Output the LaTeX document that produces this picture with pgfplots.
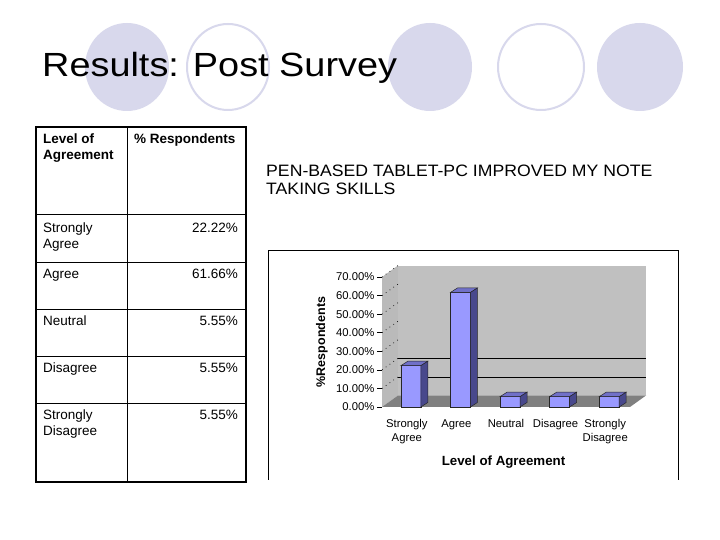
\documentclass[border=0pt]{standalone}
\usepackage{fontspec}
\setmainfont{Liberation Sans}
\usepackage{pgfplots}
\usepackage{pgfplotstable}
\pgfplotsset{compat=1.18}

\definecolor{lav}{RGB}{216,216,236}
\definecolor{barfront}{RGB}{153,153,255}
\definecolor{bartop}{RGB}{112,112,200}
\definecolor{barside}{RGB}{72,72,140}
\definecolor{wall}{RGB}{192,192,192}
\definecolor{sidewall}{RGB}{186,186,186}
\definecolor{floorgray}{RGB}{128,128,128}

\pgfplotstableread{
idx value
0 22.22
1 61.66
2 5.55
3 5.55
4 5.55
}\agreement

% top and side face of a bar, drawn at the top centre of the front face
\pgfdeclareplotmark{bar3d}{%
  \pgfmathsetlengthmacro\barh{\barval*1.857pt}%
  \filldraw[fill=bartop, draw=black!85, line width=0.5pt] (-6pt,0pt) -- (14pt,0pt) -- (21pt,4.5pt) -- (1pt,4.5pt) -- cycle;
  \filldraw[fill=barside, draw=black!85, line width=0.5pt] (14pt,0pt) -- (21pt,4.5pt) -- (21pt,{4.5pt-\barh}) -- (14pt,-\barh) -- cycle;
}

\newcommand\tabfont{\fontsize{13.5}{16}\selectfont}

\begin{document}
\begin{tikzpicture}
\path[fill=white, use as bounding box] (0pt,0pt) rectangle (720pt,540pt);

% decoration circles
\fill[lav] (127pt,473pt) ellipse [x radius=42pt, y radius=44pt];
\draw[lav, line width=2pt] (228pt,473pt) ellipse [x radius=41pt, y radius=43pt];
\fill[lav] (430pt,473pt) ellipse [x radius=42pt, y radius=44pt];
\draw[lav, line width=2pt] (541pt,473pt) ellipse [x radius=43pt, y radius=43pt];
\fill[lav] (640pt,473pt) ellipse [x radius=43pt, y radius=44pt];

\node[anchor=base west, inner sep=0pt, xscale=1.13, font=\fontsize{33.5}{40}\selectfont] at (42pt,463pt) {Results: Post Survey};

% table
\draw[line width=0.8pt] (127pt,413pt) -- (127pt,58pt);
\foreach \yy in {326,278,231,184,137} \draw[line width=0.8pt] (36pt,\yy pt) -- (246pt,\yy pt);
\draw[line width=1.2pt] (36pt,58pt) rectangle (246pt,413pt);
\begin{scope}[every node/.style={inner sep=0pt, font=\tabfont}]
\node[anchor=base west] at (43pt,396pt) {\bfseries Level of};
\node[anchor=base west] at (43pt,380pt) {\bfseries Agreement};
\node[anchor=base west] at (134pt,396pt) {\bfseries\% Respondents};
\node[anchor=base west] at (43pt,307pt) {Strongly};
\node[anchor=base west] at (43pt,291pt) {Agree};
\node[anchor=base east] at (238pt,307pt) {22.22\%};
\node[anchor=base west] at (43pt,261pt) {Agree};
\node[anchor=base east] at (238pt,261pt) {61.66\%};
\node[anchor=base west] at (43pt,214pt) {Neutral};
\node[anchor=base east] at (238pt,214pt) {5.55\%};
\node[anchor=base west] at (43pt,167pt) {Disagree};
\node[anchor=base east] at (238pt,167pt) {5.55\%};
\node[anchor=base west] at (43pt,120pt) {Strongly};
\node[anchor=base west] at (43pt,104pt) {Disagree};
\node[anchor=base east] at (238pt,120pt) {5.55\%};
\end{scope}

% chart title and frame
\node[anchor=base west, inner sep=0pt, xscale=1.07, font=\fontsize{16.5}{20}\selectfont] at (266pt,363pt) {PEN-BASED TABLET-PC IMPROVED MY NOTE};
\node[anchor=base west, inner sep=0pt, xscale=1.07, font=\fontsize{16.5}{20}\selectfont] at (266pt,345pt) {TAKING SKILLS};
\draw[line width=0.8pt] (268.5pt,60pt) -- (268.5pt,290pt) -- (678pt,290pt) -- (678pt,60pt);

\begin{axis}[
  at={(382pt,133pt)}, anchor=south west,
  x=49.6pt, y=1.857pt,
  xmin=-0.5, xmax=4.5, ymin=0, ymax=70,
  clip=false,
  axis lines*=left,
  axis line style={draw=none},
  xtick={0,...,4},
  xticklabels={{Strongly\\Agree},Agree,Neutral,Disagree,{Strongly\\Disagree}},
  xtick style={draw=none},
  xticklabel style={align=center, anchor=north, yshift=-4pt, font=\fontsize{11.3}{14}\selectfont},
  ytick={0,10,...,70},
  tick align=outside, major tick length=5pt,
  ytick style={black, line width=0.6pt},
  yticklabel={\pgfmathprintnumber[fixed,fixed zerofill,precision=2,assume math mode=true]{\tick}\%},
  yticklabel style={anchor=east, xshift=1pt, font=\fontsize{11.3}{13}\selectfont},
  xlabel={\bfseries Level of Agreement},
  ylabel={\bfseries\%Respondents},
  xlabel style={at={(axis description cs:0.49,-0.423)}, anchor=center, font=\fontsize{13.3}{16}\selectfont},
  ylabel style={at={(axis description cs:-0.242,0.5)}, anchor=center, font=\fontsize{12.5}{15}\selectfont},
]
% side wall, back wall and floor
\fill[sidewall] (axis cs:-0.5,0) -- (axis cs:-0.5,70) -- ([shift={(16pt,11.5pt)}]axis cs:-0.5,70) -- ([shift={(16pt,11.5pt)}]axis cs:-0.5,0) -- cycle;
\fill[wall] ([shift={(16pt,11.5pt)}]axis cs:-0.5,0) rectangle ([shift={(16pt,11.5pt)}]axis cs:4.5,70);
\fill[floorgray] (axis cs:-0.5,0) -- (axis cs:4.5,0) -- ([shift={(16pt,11.5pt)}]axis cs:4.5,0) -- ([shift={(16pt,11.5pt)}]axis cs:-0.5,0) -- cycle;
\pgfplotsinvokeforeach{10,20}{
  \draw[black, line width=0.7pt] ([shift={(16pt,11.5pt)}]axis cs:-0.5,#1) -- ([shift={(16pt,11.5pt)}]axis cs:4.5,#1);
}
\pgfplotsinvokeforeach{10,20,30,40,50,60,70}{
  \draw[black, line width=0.7pt, dash pattern=on 0.7pt off 4pt] (axis cs:-0.5,#1) -- ([shift={(16pt,11.5pt)}]axis cs:-0.5,#1);
}

\addplot[ybar, bar width=20pt, bar shift=4pt, fill=barfront, draw=black!85, line width=0.5pt]
  table[x=idx, y=value] {\agreement};
\addplot[only marks, mark=bar3d, visualization depends on={rawy \as \barval}]
  table[x=idx, y=value] {\agreement};
\end{axis}
\end{tikzpicture}
\end{document}
